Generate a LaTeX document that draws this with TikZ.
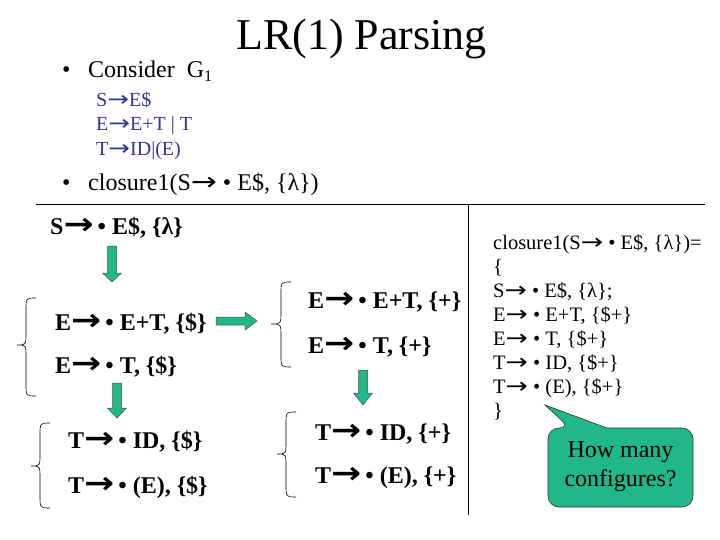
\documentclass[tikz,border=0pt]{standalone}
\usepackage{fontspec}
\usepackage{graphicx}
\setmainfont{Liberation Serif}
\newfontfamily\arrfont{DejaVu Sans}
\newcommand\myarr{\scalebox{1.3}[1.05]{\arrfont →}}
\newcommand\bigarr{\scalebox{1.5}[1.25]{\arrfont\bfseries →}\kern4pt}
\definecolor{gblue}{RGB}{51,51,153}
\definecolor{agreen}{RGB}{32,184,136}
\newcommand\mybrace[7]{\draw[brc] (#1,#4) .. controls (#2,#4) .. (#2,#4+#7) -- (#2,#5-#7) .. controls (#2,#5) .. (#3,#5) .. controls (#2,#5) .. (#2,#5+#7) -- (#2,#6-#7) .. controls (#2,#6) .. (#1,#6);}
\newcommand\dnblk[4]{\filldraw[blk] (#1-4.5,#2) -- (#1+4.5,#2) -- (#1+4.5,#3) -- (#1+9.5,#3) -- (#1,#4) -- (#1-9.5,#3) -- (#1-4.5,#3) -- cycle;}
\begin{document}
\begin{tikzpicture}[x=1pt,y=-1pt,
  txt/.style={anchor=base west, inner sep=0pt},
  item/.style={txt, font=\fontsize{24}{28.8}\selectfont\bfseries},
  gram/.style={txt, font=\fontsize{20}{24}\selectfont, text=gblue},
  rcol/.style={txt, font=\fontsize{20.5}{24}\selectfont},
  lvl/.style={txt, font=\fontsize{24}{28.8}\selectfont},
  blk/.style={fill=agreen, draw=black!70, line width=0.5pt},
  brc/.style={line width=0.6pt},
  rule/.style={line width=0.8pt}]
\useasboundingbox (0,0) rectangle (720,540);
% title
\node[txt, font=\fontsize{44}{52}\selectfont] (title) at (236,50) {LR(1) Parsing};
% bullets
\node[lvl] (b1) at (62,78) {•};
\node[lvl] (consider) at (88,78) {Consider\ \ G\raisebox{-4pt}{\fontsize{16}{16}\selectfont 1}};
\node[gram] (g1) at (96,107) {S\myarr E\$};
\node[gram] (g2) at (96,131) {E\myarr E+T | T};
\node[gram] (g3) at (96,156) {T\myarr ID|(E)};
\node[lvl] (b2) at (62,191) {•};
\node[lvl] (clos) at (88,191) {closure1(S\myarr\ • E\$, \{λ\})};
% rules
\coordinate (hl) at (36,204);
\coordinate (hr) at (705,204);
\coordinate (vt) at (468,204);
\coordinate (vb) at (468,515);
\draw[rule] (hl) -- (hr);
\draw[rule] (vt) -- (vb);
% items
\node[item] (s0) at (50,234) {S\bigarr • E\$, \{λ\}};
\node[item] (e1) at (55,330) {E\bigarr • E+T, \{\$\}};
\node[item] (e2) at (55,373) {E\bigarr • T, \{\$\}};
\node[item] (e3) at (308,308) {E\bigarr • E+T, \{+\}};
\node[item] (e4) at (308,353) {E\bigarr • T, \{+\}};
\node[item] (t1) at (68,448) {T\bigarr • ID, \{\$\}};
\node[item] (t2) at (68,493) {T\bigarr • (E), \{\$\}};
\node[item] (t3) at (315,440) {T\bigarr • ID, \{+\}};
\node[item] (t4) at (315,483) {T\bigarr • (E), \{+\}};
% braces
\mybrace{36}{26}{17}{298}{345}{396}{12}
\mybrace{291}{281}{271}{282}{324}{367}{12}
\mybrace{50}{40}{31}{423}{466}{508}{12}
\mybrace{296}{286}{277}{412}{454}{497}{12}
% block arrows
\dnblk{112}{246}{273}{282}
\dnblk{117}{383}{408}{418}
\dnblk{363}{370}{393}{405}
\filldraw[blk] (216,317) -- (245,317) -- (245,312) -- (257,321) -- (245,330) -- (245,325) -- (216,325) -- cycle;
% right column
\node[rcol] (r1) at (493,249) {closure1(S\myarr\ • E\$, \{λ\})=};
\node[rcol] (r2) at (493,273) {\{};
\node[rcol] (r3) at (493,297) {S\myarr\ • E\$, \{λ\};};
\node[rcol] (r4) at (493,321) {E\myarr\ • E+T, \{\$+\}};
\node[rcol] (r5) at (493,345) {E\myarr\ • T, \{\$+\}};
\node[rcol] (r6) at (493,369) {T\myarr\ • ID, \{\$+\}};
\node[rcol] (r7) at (493,393) {T\myarr\ • (E), \{\$+\}};
\node[rcol] (r8) at (493,417) {\}};
% balloon
\filldraw[fill=agreen, draw=black!80, line width=0.6pt] (570,428) [sharp corners] -- (545,405) -- (607,428) [rounded corners=11pt] -- (693,428) -- (693,507) -- (548,507) -- (548,428) -- cycle;
\node[align=center, font=\fontsize{24}{29}\selectfont, inner sep=0pt] (bubble) at (620.5,467) {How many\\configures?};
\end{tikzpicture}
\end{document}
